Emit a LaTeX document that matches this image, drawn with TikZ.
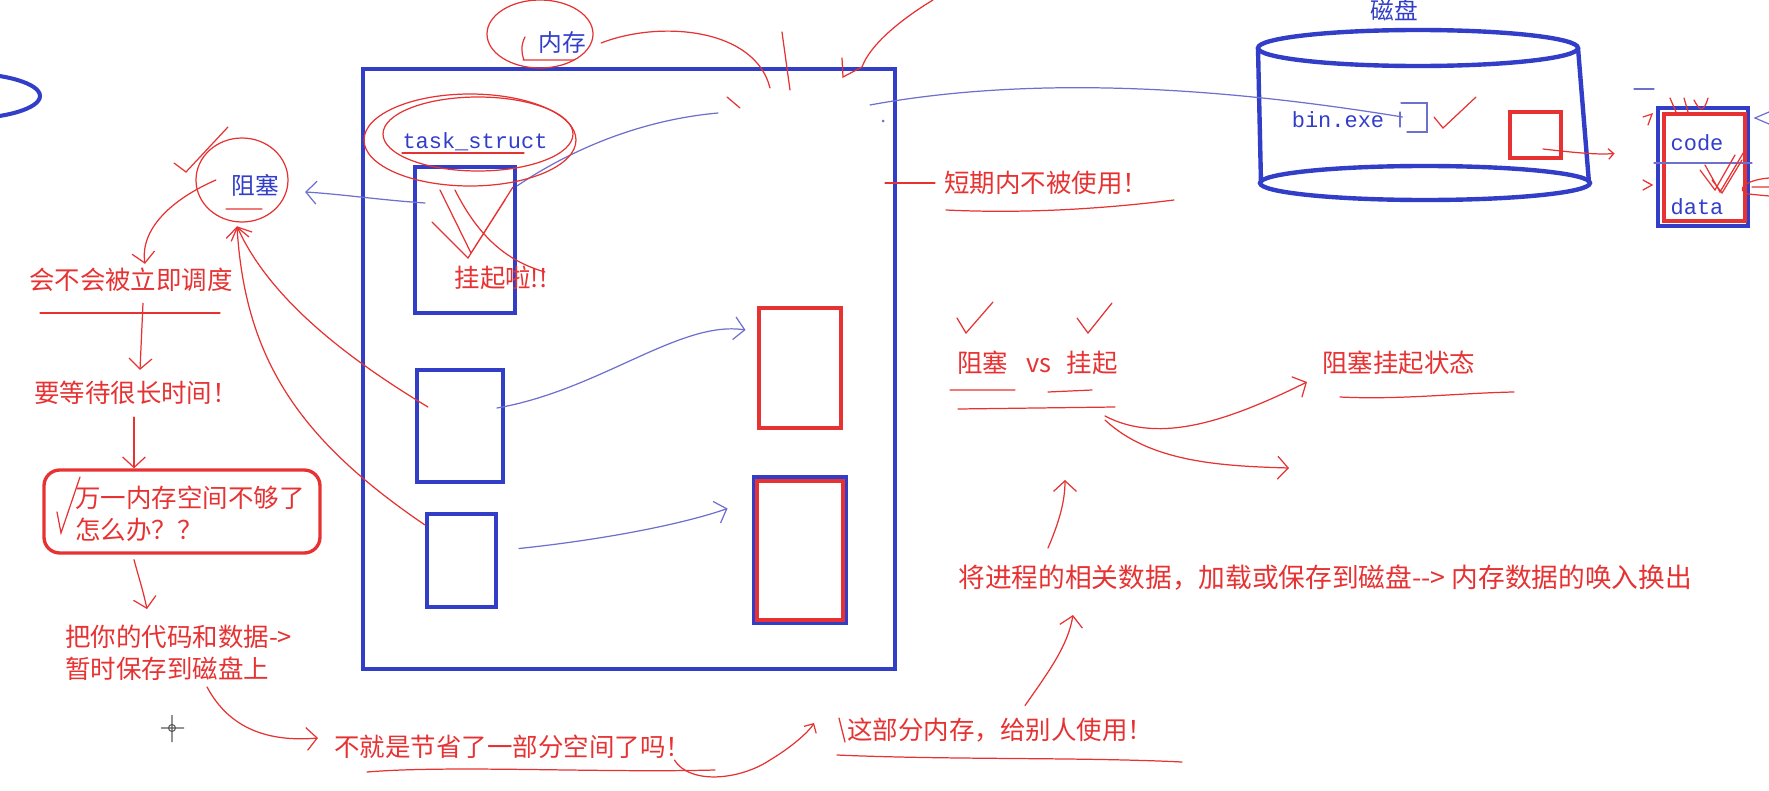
\documentclass[tikz,border=0pt]{standalone}
\usepackage{fontspec}
\setmainfont{Noto Sans CJK SC}
\setmonofont{Liberation Mono}
\usetikzlibrary{arrows.meta,fit}
\definecolor{penred}{RGB}{230,50,50}
\definecolor{penblue}{RGB}{50,62,200}
\definecolor{inkblue}{RGB}{110,112,205}
\tikzset{
  redpen/.style={penred, line width=0.7pt, line cap=round},
  bluepen/.style={inkblue, line width=0.7pt, line cap=round},
  vtip/.style={-{Straight Barb[length=6pt,width=13pt]}},
  blubox/.style={draw=penblue, line width=2.3pt, inner sep=0pt},
  redbox/.style={draw=penred, line width=2.8pt, inner sep=0pt},
  rtext/.style={text=penred, inner sep=0pt, font=\fontsize{14.5}{18}\selectfont},
  btext/.style={text=penblue, inner sep=0pt, font=\fontsize{13.5}{16}\selectfont},
  mtext/.style={text=penblue, inner sep=0pt, font=\ttfamily\fontsize{12.5}{15}\selectfont},
}
\begin{document}
\begin{tikzpicture}[x=0.02cm,y=-0.02cm]
\useasboundingbox (0,0) rectangle (1769,791);
\clip (0,0) rectangle (1769,791);

\draw[penblue, line width=2.3pt] (-40,96) ellipse (80 and 23);

\node[blubox, fit={(363,69) (895,669)}] (mem) {};
\node[blubox, fit={(415,167) (515,313)}] (tsk) {};
\node[blubox, fit={(417,370) (503,482)}] (procA) {};
\node[blubox, fit={(427,514) (496,607)}] (procB) {};
\node[redbox, fit={(759,308) (841,428)}] (swapA) {};
\node[blubox, fit={(754,477) (846,623)}] (swapBo) {};
\node[redbox, fit={(757,481) (843,620)}] (swapB) {};

\draw[penblue, line width=2.5pt] (1418,48) ellipse (160 and 18);
\draw[penblue, line width=2.5pt] (1425,183) ellipse (165 and 17);
\draw[penblue, line width=2.5pt] (1258,48) -- (1261,183) (1578,48) -- (1589,183);
\node[redbox, line width=2.3pt, fit={(1510,112) (1561,158)}] (ondisk) {};
\node[blubox, fit={(1658,108) (1748,226)}] (cdo) {};
\node[redbox, fit={(1664,114) (1745,221)}] (cd) {};
\draw[bluepen] (1654,163) -- (1752,163);

\node[btext] (disk) at (1394,10) {磁盘};
\node[btext] (neicun) at (562,43) {内存};
\node[mtext] (tsname) at (475,142) {task\_struct};
\node[btext] (zuse) at (255,185) {阻塞};
\node[mtext] (binexe) at (1338,120) {bin.exe};
\node[mtext] (code) at (1697,143) {code};
\node[mtext] (data) at (1697,207) {data};

\node[rtext] (guaqi) at (501,278) {挂起啦!!};
\node[rtext, anchor=west] (duanqi) at (944,183) {短期内不被使用！};
\node[rtext] (diaodu) at (131,280) {会不会被立即调度};
\node[rtext] (dengdai) at (136,393) {要等待很长时间！};
\node[draw=penred, line width=1.9pt, rounded corners=9pt, inner sep=0pt, fit={(44,470) (320,553)}] (worry) {};
\node[rtext, anchor=west, align=left] (wanyi) at (75,514) {万一内存空间不够了\\怎么办？？};
\node[rtext, anchor=west, align=left] (baocun) at (65,653) {把你的代码和数据->\\暂时保存到磁盘上};
\node[rtext, anchor=west] (jiesheng) at (334,747) {不就是节省了一部分空间了吗！};
\node[rtext, anchor=west] (geiren) at (847,730) {这部分内存，给别人使用！};
\node[rtext, anchor=west, font=\fontsize{15.2}{18}\selectfont] (huanru) at (958,578) {将进程的相关数据，加载或保存到磁盘{-}{-}> 内存数据的唤入换出};
\node[rtext, anchor=west] (vs) at (957,363) {阻塞\hspace{0.7em}vs\hspace{0.6em}挂起};
\node[rtext, anchor=west] (zhuangtai) at (1322,363) {阻塞挂起状态};

\coordinate (memtop) at (718,113);
\coordinate (vsfree) at (1289,468);

% blue pen
\draw[bluepen, vtip] ([shift={(12,-37)}]tsk.west) .. controls (380,200) and (340,194) .. ([shift={(26,7)}]zuse.east);
\draw[bluepen] ([shift={(0,21)}]tsk.north east) .. controls (570,150) and (640,120) .. (memtop);
\draw[bluepen, vtip] ([shift={(-8,-18)}]procA.east) .. controls (600,390) and (680,320) .. ([shift={(-11,-38)}]swapA.west);
\draw[bluepen, vtip] ([shift={(21,-12)}]procB.east) .. controls (600,540) and (680,525) .. ([shift={(-27,-42)}]swapB.west);
\draw[bluepen] ([shift={(18,-3)}]binexe.east) .. controls (1250,92) and (1050,72) .. ([shift={(-27,38)}]mem.north east);
\draw[bluepen] (1401,103) -- (1427,103) -- (1427,132) -- (1407,132) (1400,112) -- (1400,127) (1634,89) -- (1654,89);
\draw[bluepen] (1769,112) -- (1755,118) -- (1769,124);
\fill[inkblue] (883,121) circle (1.5);

% red pen
\draw[redpen] (540,34) ellipse (53 and 34);
\draw[redpen] (523,60) -- (574,60) (525,37) .. controls (521,45) and (521,52) .. (524,60);
\draw[redpen] ([shift={(15,0)}]neicun.east) .. controls (660,20) and (755,28) .. ([shift={(141,21)}]mem.north);
\draw[redpen] (782,32) -- (790,90) (933,0) .. controls (900,20) and (870,45) .. (862,67) (842,58) -- (843,77) -- (862,67);
\draw[redpen] (727,97) -- (740,108);
\draw[redpen] (470,140) ellipse (106 and 46);
\draw[redpen] (478,134) ellipse (95 and 37);
\draw[redpen] (402,153) -- (524,153);
\draw[redpen] (440,190) -- (471,253) -- (513,187) (432,222) -- (468,258) -- (505,200) (455,190) .. controls (480,240) and (510,262) .. (545,272);
\draw[redpen] (242,180) ellipse (46 and 42);
\draw[redpen] (226,209) -- (262,209) (174,163) -- (186,172) -- (228,127);
\draw[redpen, vtip] ([shift={(-15,-5)}]zuse.west) .. controls (170,200) and (140,230) .. ([shift={(14,-4)}]diaodu.north);
\draw[redpen] (40,313) -- (220,313);
\draw[redpen, vtip] ([shift={(12,11)}]diaodu.south) -- ([shift={(4,-11)}]dengdai.north);
\draw[redpen, vtip] ([shift={(-2,12)}]dengdai.south) -- ([shift={(-48,0)}]worry.north);
\draw[redpen] (57,512) -- (61,533) -- (80,477);
\draw[redpen, vtip] ([shift={(-48,5)}]worry.south) .. controls (138,575) and (143,590) .. ([shift={(82,-16)}]baocun.north west);
\draw[redpen, vtip] ([shift={(142,6)}]baocun.south west) .. controls (230,730) and (270,742) .. ([shift={(-16,-9)}]jiesheng.west);
\draw[redpen, vtip] ([shift={(13,-19)}]procA.west) .. controls (350,360) and (270,300) .. ([shift={(-18,30)}]zuse.south);
\draw[redpen, vtip] ([shift={(0,13)}]procB.north west) .. controls (300,440) and (245,360) .. ([shift={(-18,30)}]zuse.south);
\draw[redpen] ([shift={(-12,-186)}]mem.east) -- ([shift={(-9,0)}]duanqi.west);
\draw[redpen] (946,210) .. controls (1030,214) and (1110,208) .. (1174,200);
\draw[redpen] (367,772) .. controls (450,765) and (600,773) .. (715,770);
\draw[redpen, -{Straight Barb[length=4pt,width=8pt]}] ([shift={(-17,13)}]jiesheng.east) .. controls (690,785) and (740,780) .. (770,760) .. controls (795,745) and (810,730) .. ([shift={(-33,-7)}]geiren.west);
\draw[redpen] (839,718) -- (845,742) (837,755) .. controls (950,760) and (1080,757) .. (1182,762);
\draw[redpen, vtip] ([shift={(178,-12)}]geiren.north west) .. controls (1050,670) and (1068,645) .. ([shift={(115,37)}]huanru.west);
\draw[redpen, vtip] ([shift={(90,-30)}]huanru.west) .. controls (1060,520) and (1065,500) .. ([shift={(108,117)}]vs.west);
\draw[redpen] (957,318) -- (966,333) -- (993,302) (1077,318) -- (1088,333) -- (1112,303);
\draw[redpen] (950,390) -- (1015,390) (1048,392) -- (1092,390) (958,409) -- (1115,407);
\draw[redpen, vtip] ([shift={(148,53)}]vs.west) .. controls (1160,445) and (1230,420) .. ([shift={(-15,19)}]zhuangtai.west);
\draw[redpen, vtip] ([shift={(148,57)}]vs.west) .. controls (1150,462) and (1220,466) .. (vsfree);
\draw[redpen] (1340,397) .. controls (1400,400) and (1460,393) .. (1514,392);
\draw[redpen] (1434,117) -- (1443,128) -- (1476,97);
\draw[redpen, -{Straight Barb[length=3pt,width=6pt]}] ([shift={(-20,-11)}]ondisk.south east) .. controls (1570,152) and (1595,155) .. ([shift={(-47,-14)}]cd.west);
\draw[redpen] (1700,170) -- (1715,190) -- (1735,155) (1705,165) -- (1720,192) -- (1745,150) (1712,180) -- (1722,193) -- (1742,160);
\draw[redpen] (1643,117) -- (1652,114) -- (1648,125) (1643,180) -- (1652,185) -- (1643,190);
\draw[redpen] (1670,98) -- (1676,112) (1684,98) -- (1688,112) (1694,100) .. controls (1700,112) and (1704,112) .. (1708,98);
\draw[redpen] (1769,178) .. controls (1745,180) and (1735,190) .. (1748,194) -- (1769,196) (1752,187) -- (1769,187);

\draw[gray!70!black, line width=0.6pt] (172,728) circle (3.5) (172,715) -- (172,742) (161,728) -- (184,728);
\end{tikzpicture}
\end{document}
